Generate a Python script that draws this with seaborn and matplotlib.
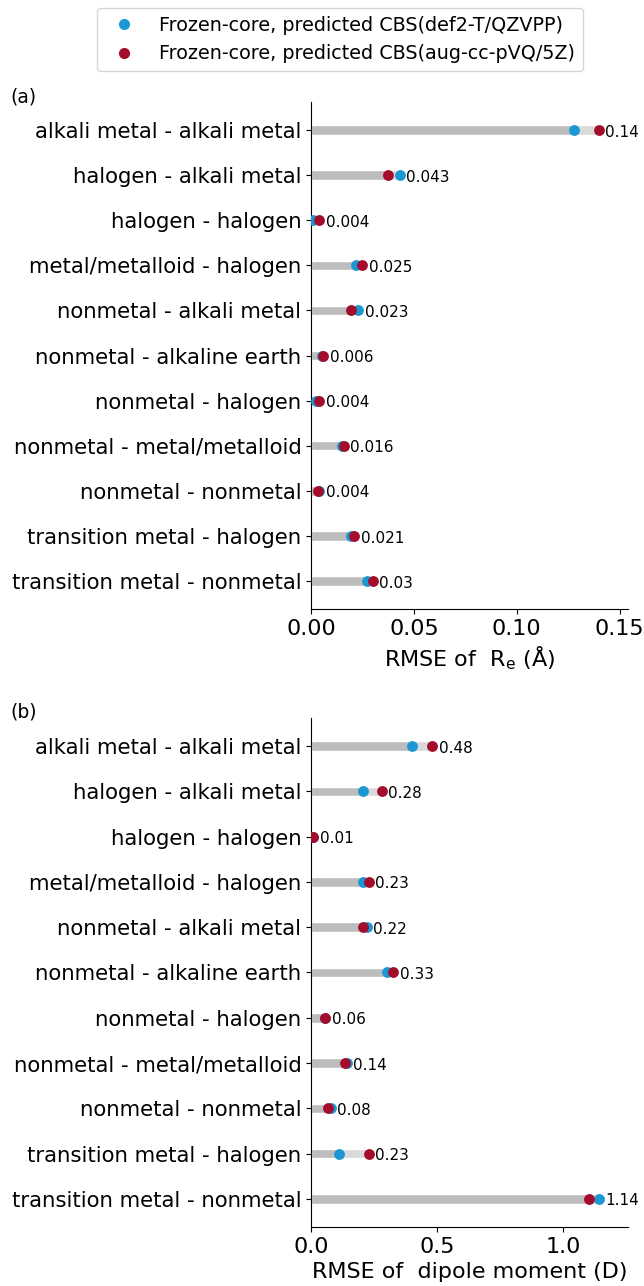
import matplotlib
matplotlib.use("Agg")
import matplotlib.pyplot as plt
from matplotlib.lines import Line2D
from matplotlib.ticker import FormatStrFormatter
import seaborn as sns

pairs = ["alkali metal - alkali metal", "halogen - alkali metal", "halogen - halogen",
         "metal/metalloid - halogen", "nonmetal - alkali metal", "nonmetal - alkaline earth",
         "nonmetal - halogen", "nonmetal - metal/metalloid", "nonmetal - nonmetal",
         "transition metal - halogen", "transition metal - nonmetal"]

# RMSE of R_e (Angstrom)
re_def2 = [0.128, 0.043, 0.001, 0.022, 0.023, 0.0055, 0.0025, 0.0148, 0.004, 0.0196, 0.0272]
re_aug = [0.140, 0.0373, 0.004, 0.025, 0.0196, 0.006, 0.004, 0.016, 0.0032, 0.021, 0.030]

# RMSE of dipole moment (Debye)
dip_def2 = [0.40, 0.207, 0.008, 0.205, 0.222, 0.30, 0.055, 0.143, 0.079, 0.112, 1.143]
dip_aug = [0.481, 0.282, 0.009, 0.228, 0.205, 0.327, 0.057, 0.135, 0.069, 0.229, 1.102]

lab_def2 = "Frozen-core, predicted CBS(def2-T/QZVPP)"
lab_aug = "Frozen-core, predicted CBS(aug-cc-pVQ/5Z)"
c_def2 = "#1b98d3"
c_aug = "#a30c2b"

sns.set_style("ticks")
plt.rcParams.update({"text.color": "black", "axes.labelcolor": "black",
                     "xtick.color": "black", "ytick.color": "black",
                     "axes.edgecolor": "black"})


def dumbbell(ax, v1, v2, ndig, xticks, xlabel):
    hi = [max(a, b) for a, b in zip(v1, v2)]
    lo = [min(a, b) for a, b in zip(v1, v2)]
    sns.barplot(x=hi, y=pairs, orient="h", color="#dadada", width=0.21,
                saturation=1, ax=ax)
    sns.barplot(x=lo, y=pairs, orient="h", color="#bdbdbd", width=0.21,
                saturation=1, ax=ax)
    sns.stripplot(x=v1, y=pairs, orient="h", jitter=False, color=c_def2,
                  size=7.8, linewidth=0, ax=ax, zorder=3)
    sns.stripplot(x=v2, y=pairs, orient="h", jitter=False, color=c_aug,
                  size=7.8, linewidth=0, ax=ax, zorder=4)
    for i, v in enumerate(hi):
        ax.annotate(str(round(v, ndig)), (v, i), xytext=(4.5, -1.5),
                    textcoords="offset points", va="center", ha="left", fontsize=11)
    ax.set_xlim(0, max(hi) * 1.1)
    ax.set_ylim(10.62, -0.62)
    ax.set_xticks(xticks)
    ax.tick_params(axis="y", labelsize=15.3)
    ax.tick_params(axis="x", labelsize=16)
    ax.set_xlabel(xlabel, fontsize=16)
    ax.set_ylabel("")
    sns.despine(ax=ax)


fig = plt.figure(figsize=(6.44, 12.86), dpi=100)
ax1 = fig.add_axes([0.483, 0.5264, 0.492, 0.3943])
ax2 = fig.add_axes([0.483, 0.0459, 0.492, 0.3958])

dumbbell(ax1, re_def2, re_aug, 3, [0, 0.05, 0.10, 0.15], "RMSE of  R$_{\\rm e}$ (Å)")
dumbbell(ax2, dip_def2, dip_aug, 2, [0, 0.5, 1.0], "RMSE of  dipole moment (D)")
ax1.xaxis.set_major_formatter(FormatStrFormatter("%.2f"))
ax2.xaxis.set_major_formatter(FormatStrFormatter("%.1f"))

fig.text(10 / 644, 1 - 97 / 1286, "(a)", fontsize=13.5, va="center")
fig.text(10 / 644, 1 - 712 / 1286, "(b)", fontsize=13.5, va="center")

handles = [Line2D([], [], marker="o", ls="", color=c_def2, markersize=7),
           Line2D([], [], marker="o", ls="", color=c_aug, markersize=7)]
fig.legend(handles, [lab_def2, lab_aug], loc="upper center",
           bbox_to_anchor=(340 / 644, 1 - 8 / 1286), borderaxespad=0,
           fontsize=13.8)

fig.savefig("out.png", dpi=100)
